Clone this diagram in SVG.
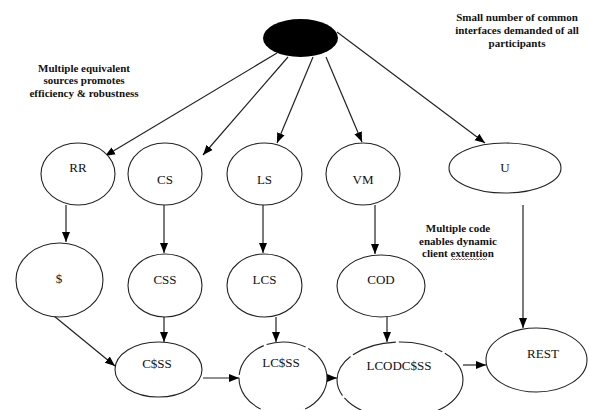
<svg xmlns="http://www.w3.org/2000/svg" width="589" height="410" viewBox="0 0 589 410">
<style>
.n{fill:#fff;stroke:#222;stroke-width:1.1}
.t{font-family:'Liberation Serif','DejaVu Serif',serif;font-size:13px;fill:#111;text-anchor:middle}
.a{font-family:'Liberation Serif','DejaVu Serif',serif;font-size:11px;font-weight:bold;fill:#111;text-anchor:middle}
.e{fill:none;stroke:#222;stroke-width:1.2;marker-end:url(#ah)}
</style>
<defs>
<marker id="ah" markerUnits="userSpaceOnUse" markerWidth="10" markerHeight="10" viewBox="0 0 10 10" refX="10" refY="5" orient="auto">
<path d="M0,1 L10,5 L0,9 Z" fill="#000"/>
</marker>
</defs>
<rect width="589" height="410" fill="#fff"/>
<g id="labels">
<text class="a" x="84" y="72">Multiple equivalent</text>
<text class="a" x="84" y="84">sources promotes</text>
<text class="a" x="84" y="97">efficiency &amp; robustness</text>
<text class="a" x="517" y="21">Small number of common</text>
<text class="a" x="517" y="34">interfaces demanded of all</text>
<text class="a" x="517" y="47">participants</text>
<text class="a" x="458" y="232">Multiple code</text>
<text class="a" x="458" y="245">enables dynamic</text>
<text class="a" x="458" y="257">client extention</text>
<path d="M451,260 l1.5,-1.5 l1.5,1.5 l1.5,-1.5 l1.5,1.5 l1.5,-1.5 l1.5,1.5 l1.5,-1.5 l1.5,1.5 l1.5,-1.5 l1.5,1.5 l1.5,-1.5 l1.5,1.5 l1.5,-1.5 l1.5,1.5 l1.5,-1.5 l1.5,1.5 l1.5,-1.5 l1.5,1.5 l1.5,-1.5 l1.5,1.5 l1.5,-1.5 l1.5,1.5 l1.5,-1.5 l1.5,1.5" fill="none" stroke="#e02020" stroke-width="0.8"/>
</g>
<g id="connectors">
<line class="e" x1="277" y1="53" x2="105" y2="156"/>
<line class="e" x1="288" y1="57" x2="203" y2="155"/>
<line class="e" x1="313" y1="57" x2="277" y2="143"/>
<line class="e" x1="326" y1="57" x2="362" y2="142"/>
<line class="e" x1="337" y1="32" x2="485" y2="143"/>
<line class="e" x1="66" y1="205" x2="66" y2="242"/>
<line class="e" x1="164" y1="205" x2="164" y2="253"/>
<line class="e" x1="263" y1="205" x2="263" y2="253"/>
<line class="e" x1="375" y1="205" x2="375" y2="254"/>
<line class="e" x1="523" y1="205" x2="523" y2="328"/>
<line class="e" x1="54" y1="316" x2="115" y2="366"/>
<line class="e" x1="164" y1="317" x2="164" y2="342"/>
<line class="e" x1="276" y1="317" x2="276" y2="342"/>
<line class="e" x1="387" y1="317" x2="387" y2="342"/>
<line class="e" x1="203" y1="378" x2="239" y2="378"/>
<line class="e" x1="327" y1="378" x2="337" y2="378"/>
<line class="e" x1="463" y1="365" x2="486" y2="365"/>
</g>
<g id="root"><ellipse cx="300.5" cy="38" rx="37.5" ry="19" fill="#000"/></g>
<g id="RR"><ellipse class="n" cx="78" cy="174" rx="37" ry="31"/><text class="t" x="78" y="172">RR</text></g>
<g id="CS"><ellipse class="n" cx="165" cy="174" rx="37" ry="31"/><text class="t" x="165" y="184">CS</text></g>
<g id="LS"><ellipse class="n" cx="264.5" cy="174" rx="37.5" ry="31"/><text class="t" x="264.5" y="184">LS</text></g>
<g id="VM"><ellipse class="n" cx="363" cy="174" rx="37" ry="31"/><text class="t" x="363" y="184">VM</text></g>
<g id="U"><ellipse class="n" cx="505" cy="168" rx="56" ry="25"/><text class="t" x="505" y="172">U</text></g>
<g id="S"><ellipse class="n" cx="59.5" cy="280" rx="43.5" ry="37"/><text class="t" x="59" y="283">$</text></g>
<g id="CSS"><ellipse class="n" cx="165" cy="285.5" rx="37" ry="31.5"/><text class="t" x="165" y="284">CSS</text></g>
<g id="LCS"><ellipse class="n" cx="264.5" cy="285.5" rx="37.5" ry="31.5"/><text class="t" x="264.5" y="284">LCS</text></g>
<g id="COD"><ellipse class="n" cx="381" cy="286" rx="44" ry="31"/><text class="t" x="381" y="284">COD</text></g>
<g id="CSSS"><ellipse class="n" cx="158.5" cy="369.5" rx="43.5" ry="27.5"/><text class="t" x="157" y="368">C$SS</text></g>
<g id="LCSSS"><ellipse class="n" cx="283" cy="378" rx="44" ry="36" stroke-dasharray="40 3"/><text class="t" x="281" y="367">LC$SS</text></g>
<g id="LCODCSSS"><ellipse class="n" cx="400" cy="380" rx="63" ry="38" stroke-dasharray="45 3"/><text class="t" x="399" y="370">LCODC$SS</text></g>
<g id="REST"><ellipse class="n" cx="536.5" cy="360" rx="50.5" ry="32"/><text class="t" x="543" y="358">REST</text></g>
</svg>
